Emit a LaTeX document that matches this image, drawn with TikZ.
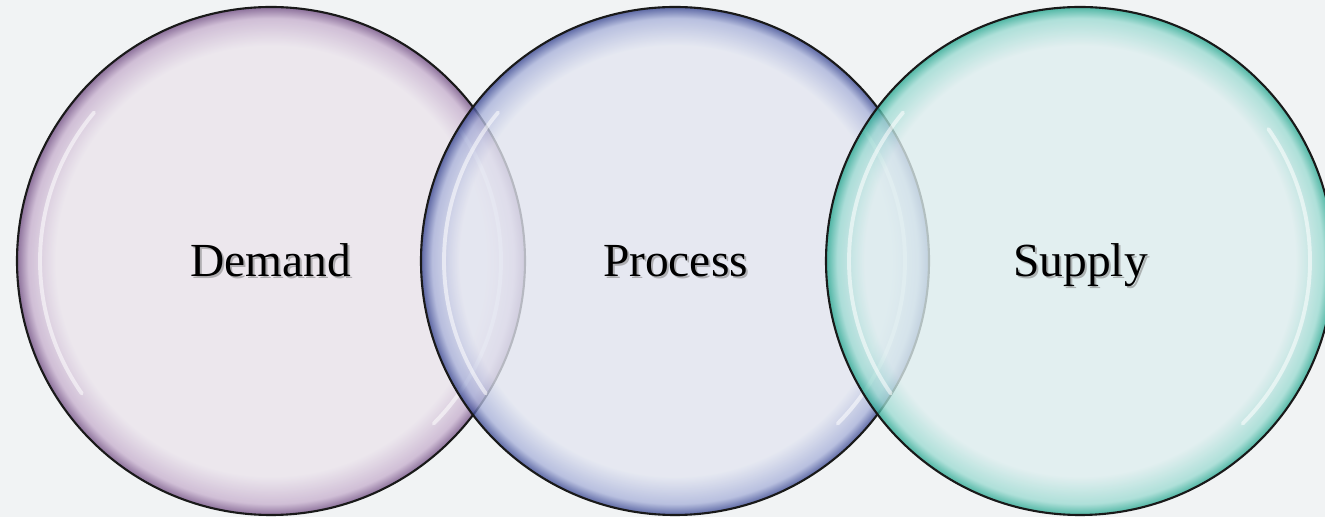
\documentclass[tikz,border=0pt]{standalone}
\usepackage{fontspec}
\setmainfont{Liberation Serif}
\definecolor{paper}{HTML}{F1F3F4}
\definecolor{demandin}{HTML}{EBE4EC}
\definecolor{demandmid}{HTML}{C7B0CE}
\definecolor{demandout}{HTML}{704C82}
\definecolor{processin}{HTML}{E3E6F1}
\definecolor{processmid}{HTML}{A9B2DA}
\definecolor{processout}{HTML}{34428F}
\definecolor{supplyin}{HTML}{DEEEEF}
\definecolor{supplymid}{HTML}{9CDBD2}
\definecolor{supplyout}{HTML}{22A68E}
\pgfdeclareradialshading{demandglass}{\pgfpointorigin}{color(0bp)=(demandin); color(21.2bp)=(demandin); color(23.9bp)=(demandmid); color(25bp)=(demandout); color(50bp)=(demandout)}
\pgfdeclareradialshading{processglass}{\pgfpointorigin}{color(0bp)=(processin); color(21.2bp)=(processin); color(23.9bp)=(processmid); color(25bp)=(processout); color(50bp)=(processout)}
\pgfdeclareradialshading{supplyglass}{\pgfpointorigin}{color(0bp)=(supplyin); color(21.2bp)=(supplyin); color(23.9bp)=(supplymid); color(25bp)=(supplyout); color(50bp)=(supplyout)}
\tikzset{
  glass/.style={fill opacity=0.78},
  rim/.style={line width=1.2pt, black!90},
  gloss/.style={white, line width=2.2pt, opacity=0.55, line cap=round},
  venntext/.style={font=\fontsize{27}{30}\selectfont, inner sep=0pt, anchor=base},
  vennshadow/.style={venntext, text=black!50, opacity=0.55}
}

\begin{document}
\begin{tikzpicture}
\fill[paper] (0,0) rectangle (26.5,10.34);
\useasboundingbox (0,0) rectangle (26.5,10.34);
% demand
\shade[glass, shading=demandglass] (5.42,5.12) circle (5.08);
\draw[rim] (5.42,5.12) circle (5.08);
\draw[gloss] (5.42,5.12) ++(140:4.62) arc (140:215:4.62);
\draw[gloss] (5.42,5.12) ++(-45:4.6) arc (-45:35:4.6);
% process
\shade[glass, shading=processglass] (13.5,5.12) circle (5.08);
\draw[rim] (13.5,5.12) circle (5.08);
\draw[gloss] (13.5,5.12) ++(140:4.62) arc (140:215:4.62);
\draw[gloss] (13.5,5.12) ++(-45:4.6) arc (-45:35:4.6);
% supply
\shade[glass, shading=supplyglass] (21.6,5.12) circle (5.08);
\draw[rim] (21.6,5.12) circle (5.08);
\draw[gloss] (21.6,5.12) ++(140:4.62) arc (140:215:4.62);
\draw[gloss] (21.6,5.12) ++(-45:4.6) arc (-45:35:4.6);
% labels
\node[vennshadow] (demand-shadow) at (5.46,4.76) {Demand};
\node[venntext] (demand) at (5.42,4.80) {Demand};
\node[vennshadow] (process-shadow) at (13.55,4.76) {Process};
\node[venntext] (process) at (13.51,4.80) {Process};
\node[vennshadow] (supply-shadow) at (21.65,4.76) {Supply};
\node[venntext] (supply) at (21.61,4.80) {Supply};
\end{tikzpicture}
\end{document}
